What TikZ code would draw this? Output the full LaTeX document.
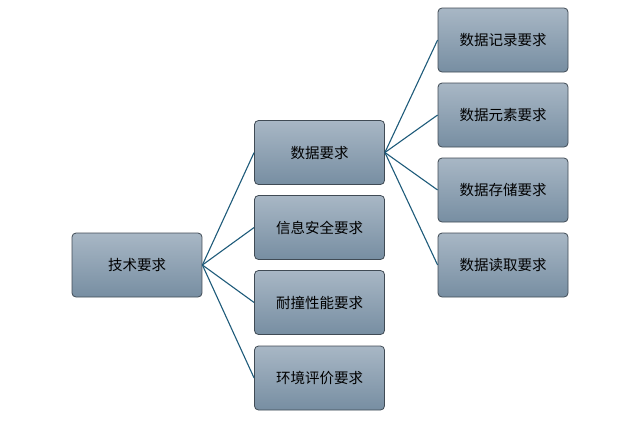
\documentclass[tikz,border=0pt]{standalone}
\usepackage{fontspec}
\newfontfamily\cjk{Noto Sans CJK SC}
\usetikzlibrary{arrows.meta,positioning}

\definecolor{boxtop}{HTML}{A8B7C5}
\definecolor{boxbot}{HTML}{778EA2}
\definecolor{boxline}{HTML}{404B55}
\definecolor{linkc}{HTML}{1E5B7A}

\begin{document}
\begin{tikzpicture}[
  x=1pt, y=-1pt,
  font=\cjk\fontsize{14.5}{17}\selectfont,
  item/.style={draw=boxline, line width=0.8pt, top color=boxtop, bottom color=boxbot,
    rounded corners=4pt, minimum width=130pt, minimum height=64pt, inner sep=2pt},
  link/.style={linkc, line width=1.1pt}
]
\useasboundingbox (0,0) rectangle (639,421);

\node[item] (tech) at (137,265) {技术要求};

\node[item] (data) at (319.5,152.5) {数据要求};
\node[item] (secure) at (319.5,227.5) {信息安全要求};
\node[item] (durable) at (319.5,302.5) {耐撞性能要求};
\node[item] (env) at (319.5,378) {环境评价要求};

\node[item] (record) at (503,40) {数据记录要求};
\node[item] (element) at (503,115) {数据元素要求};
\node[item] (store) at (503,190) {数据存储要求};
\node[item] (read) at (503,265) {数据读取要求};

\foreach \a/\b in {tech/data,tech/secure,tech/durable,tech/env,data/record,data/element,data/store,data/read}
  \draw[link] (\a.east) -- (\b.west);
\end{tikzpicture}
\end{document}
